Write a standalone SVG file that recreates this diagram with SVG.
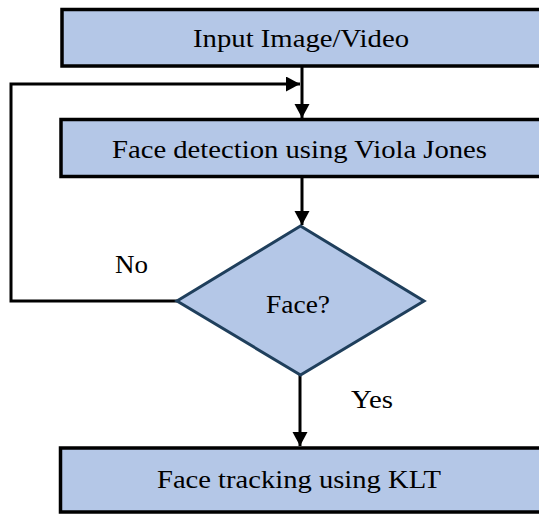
<svg xmlns="http://www.w3.org/2000/svg" width="539" height="515" viewBox="0 0 539 515">
<style>
.box{fill:#b4c7e7;stroke:#000;stroke-width:3.5}
.dia{fill:#b4c7e7;stroke:#1f3f5c;stroke-width:3}
.conn{fill:none;stroke:#000;stroke-width:3}
text{font-family:"Liberation Serif","Times New Roman",serif;font-size:25px;fill:#000}
</style>
<defs>
<marker id="ah" markerUnits="userSpaceOnUse" markerWidth="16" markerHeight="16" refX="14" refY="7.5" orient="auto">
<path d="M0,0 L14,7.5 L0,15 z" fill="#000"/>
</marker>
</defs>
<rect width="539" height="515" fill="#fff"/>
<g id="connectors">
<path class="conn" d="M302,66 L302,118" marker-end="url(#ah)"/>
<path class="conn" d="M302,177 L302,225" marker-end="url(#ah)"/>
<path class="conn" d="M300,375 L300,446" marker-end="url(#ah)"/>
<path class="conn" d="M177,301 L11,301 L11,84 L300,84" marker-end="url(#ah)"/>
<text x="115" y="273" textLength="33" lengthAdjust="spacingAndGlyphs">No</text>
<text x="351" y="408" textLength="42" lengthAdjust="spacingAndGlyphs">Yes</text>
</g>
<g id="input">
<rect class="box" x="62" y="9.5" width="480" height="56.5"/>
<text x="193" y="47" textLength="216" lengthAdjust="spacingAndGlyphs">Input Image/Video</text>
</g>
<g id="detection">
<rect class="box" x="61" y="119.5" width="480" height="57"/>
<text x="112" y="158" textLength="375" lengthAdjust="spacingAndGlyphs">Face detection using Viola Jones</text>
</g>
<g id="decision">
<polygon class="dia" points="300.5,226 424,301 300.5,375 177,301"/>
<text x="266" y="313" textLength="64" lengthAdjust="spacingAndGlyphs">Face?</text>
</g>
<g id="tracking">
<rect class="box" x="60.5" y="448" width="481" height="64"/>
<text x="157" y="488" textLength="284" lengthAdjust="spacingAndGlyphs">Face tracking using KLT</text>
</g>
</svg>
